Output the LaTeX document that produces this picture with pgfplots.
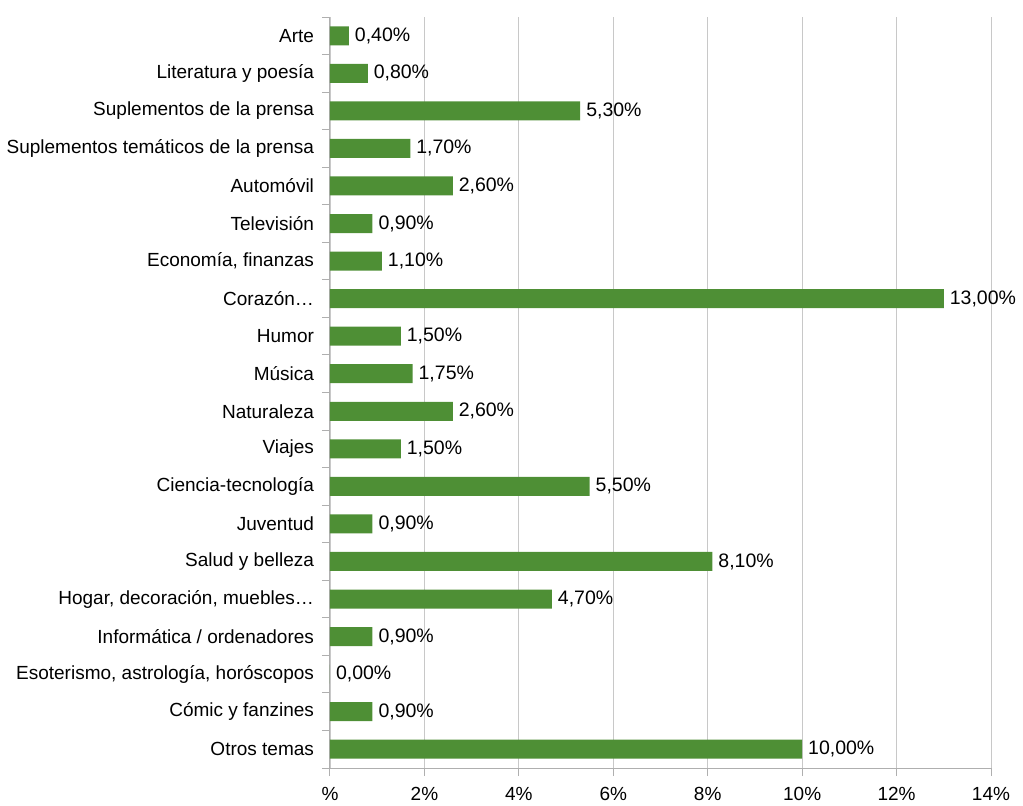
\documentclass[border=0pt]{standalone}
\usepackage{pgfplots}
\pgfplotsset{compat=1.18}
\usepackage{fontspec}
\setmainfont{Liberation Sans}
\definecolor{barg}{RGB}{78,143,53}
\definecolor{gridc}{RGB}{200,200,200}
\definecolor{axc}{RGB}{175,175,175}
\begin{document}
\begin{tikzpicture}
\begin{axis}[
  name=ax,
  scale only axis, width=661pt, height=751pt,
  xbar, bar width=19pt,
  xmin=0, xmax=14,
  ymin=-0.5, ymax=19.5, y dir=reverse,
  axis x line*=bottom, axis y line*=left,
  axis line style={axc, line width=1pt},
  xtick={0,2,...,14},
  xticklabels={\%,2\%,4\%,6\%,8\%,10\%,12\%,14\%},
  xmajorgrids, grid style={gridc, line width=0.8pt},
  ytick={0,...,19},
  yticklabels={Arte,Literatura y poesía,Suplementos de la prensa,Suplementos temáticos de la prensa,Automóvil,Televisión,{Economía, finanzas},Corazón…,Humor,Música,Naturaleza,Viajes,Ciencia-tecnología,Juventud,Salud y belleza,{Hogar, decoración, muebles…},Informática / ordenadores,{Esoterismo, astrología, horóscopos},Cómic y fanzines,Otros temas},
  minor ytick={-0.5,0.5,...,19.5},
  tick align=outside,
  major tick length=8pt, minor tick length=8pt,
  major y tick style={draw=none},
  minor y tick style={draw=axc, line width=1pt},
  xtick style={axc, line width=1pt},
  tick label style={font=\fontsize{19}{22}\selectfont, black},
  yticklabel style={xshift=-4.5pt},
  xticklabel style={yshift=-8pt},
  /pgf/number format/assume math mode=true,
  nodes near coords={\pgfmathprintnumber[fixed,fixed zerofill,precision=2,use comma,assume math mode=true]{\pgfplotspointmeta}\%},
  every node near coord/.append style={font=\fontsize{19.5}{22}\selectfont, black, anchor=west, xshift=2.5pt},
  clip=false,
]
\addplot[fill=barg, draw=none] coordinates {
(0.40,0) (0.80,1) (5.30,2) (1.70,3) (2.60,4) (0.90,5) (1.10,6) (13.00,7) (1.50,8) (1.75,9)
(2.60,10) (1.50,11) (5.50,12) (0.90,13) (8.10,14) (4.70,15) (0.90,16) (0.00,17) (0.90,18) (10.00,19)
};
\end{axis}
\path ([shift={(-330pt,-38pt)}]ax.south west) rectangle ([shift={(32pt,17pt)}]ax.north east);
\end{tikzpicture}
\end{document}
